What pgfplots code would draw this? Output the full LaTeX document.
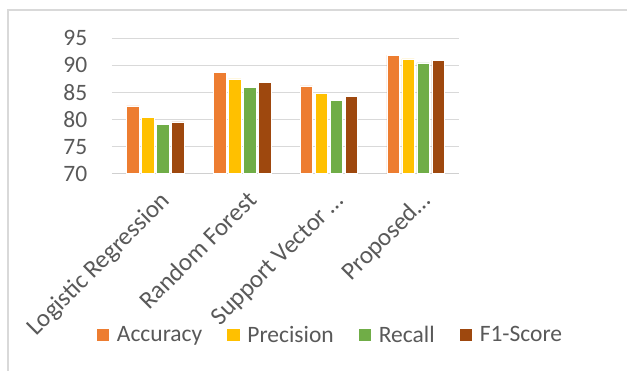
\documentclass[border=0pt]{standalone}
\usepackage{fontspec}
\setmainfont{Carlito}
\usepackage{pgfplots}
\pgfplotsset{compat=1.18}
\definecolor{cAcc}{HTML}{ED7D31}
\definecolor{cPre}{HTML}{FFC000}
\definecolor{cRec}{HTML}{70AD47}
\definecolor{cF1}{HTML}{9E480E}
\definecolor{tgrey}{HTML}{595959}
\definecolor{gridc}{HTML}{D9D9D9}
\definecolor{axc}{HTML}{D0D0D0}
\begin{document}
\begin{tikzpicture}
\useasboundingbox (0,0) rectangle (627pt,371pt);
\draw[gridc, line width=1.5pt] (8pt,0pt) -- (8pt,361pt) -- (627pt,361pt);
\begin{axis}[
  at={(112pt,197.3pt)}, anchor=south west,
  scale only axis, width=347pt, height=135.4pt,
  ymin=70, ymax=95, ytick={70,75,80,85,90,95},
  xmin=-0.5, xmax=3.5, xtick={0,1,2,3},
  xticklabels={Logistic Regression\hspace{14pt}, Random Forest\hspace{17pt}, Support Vector \ldots, Proposed\ldots},
  ybar=2.5pt, bar width=12.5pt,
  major tick length=0pt,
  axis x line*=bottom, axis y line*=left,
  y axis line style={draw=none},
  x axis line style={draw=axc, line width=1.3pt},
  ymajorgrids, major grid style={draw=gridc, line width=0.9pt},
  /pgf/number format/assume math mode=true,
  yticklabel style={font=\fontsize{23.5}{25}\selectfont, text=tgrey, anchor=east, inner sep=0pt, xshift=-24.5pt},
  xticklabel style={font=\fontsize{25}{27}\selectfont, text=tgrey, inner sep=0pt, xshift=16pt, yshift=-28pt, rotate=45, anchor=base east},
  legend columns=4,
  legend style={draw=none, at={(0.6254,-1.191)}, anchor=center,
    font=\fontsize{23.5}{25}\selectfont, text=tgrey,
    nodes={inner sep=0pt},
    /tikz/every odd column/.append style={column sep=7pt},
    /tikz/every even column/.append style={column sep=24pt}},
  legend image code/.code={\fill[#1] (0pt,-6.75pt) rectangle (13.5pt,6.75pt);},
  every axis plot/.append style={draw=white, line width=0.6pt},
]
\addplot[fill=cAcc] coordinates {(0,82.5) (1,88.7) (2,86.2) (3,91.9)};
\addplot[fill=cPre] coordinates {(0,80.4) (1,87.5) (2,84.8) (3,91.2)};
\addplot[fill=cRec] coordinates {(0,79.1) (1,85.95) (2,83.6) (3,90.45)};
\addplot[fill=cF1] coordinates {(0,79.55) (1,86.8) (2,84.3) (3,90.9)};
\legend{Accuracy, Precision, Recall, F1-Score}
\end{axis}
\end{tikzpicture}
\end{document}
